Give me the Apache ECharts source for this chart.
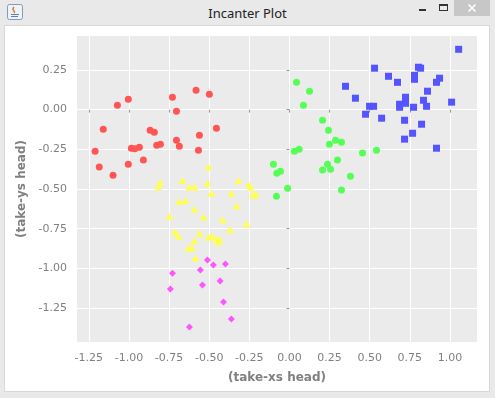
<!DOCTYPE html>
<html lang="en">
<head>
<meta charset="UTF-8">
<title>Incanter Plot</title>
<script src="https://cdn.jsdelivr.net/npm/echarts@6/dist/echarts.min.js"></script>
<style>
    body { margin:0; background:#e9e9e9; }
    #win { position:relative; width:495px; height:398px; overflow:hidden; background:#e9e9e9; }
    #caption { position:absolute; left:0; top:4px; width:495px; text-align:center;
               font-family:"Noto Sans"; font-size:13px; line-height:18px; color:#222; }
    #panel { position:absolute; left:4px; top:25px; width:484px; height:365px;
             background:#fff; border:1px solid #d8d8d8; }
    #chartmain { position:absolute; left:0; top:0; width:495px; height:398px; }
</style>
</head>
<body>
<div id="win">
    <svg style="position:absolute;left:0;top:0" width="495" height="25">
        <!-- java icon -->
        <rect x="7.5" y="4.5" width="15" height="15" rx="2" fill="#eef3f8" stroke="#7f9cbc"/>
        <path d="M14 7 q-2 2 0 4 q1 1 0 2" stroke="#e8772e" stroke-width="1.5" fill="none"/>
        <path d="M11 14.5 h8 M11 16.5 h7" stroke="#5b82b0" stroke-width="1"/>
        <!-- minimise / maximise / close -->
        <rect x="419" y="9" width="7" height="2" fill="#333"/>
        <rect x="439.5" y="4.5" width="8" height="6" fill="none" stroke="#333"/>
        <rect x="439" y="4" width="9" height="2" fill="#333"/>
        <rect x="454" y="0" width="36" height="16" fill="#c7c7c7"/>
        <path d="M468.5 4.5 l7 7 M475.5 4.5 l-7 7" stroke="#fff" stroke-width="1.6"/>
    </svg>
    <div id="caption">Incanter Plot</div>
    <div id="panel"></div>
    <div id="chartmain"></div>
</div>
<script>
    var xTicks = [-1.25, -1, -0.75, -0.5, -0.25, 0, 0.25, 0.5, 0.75, 1];
    var yTicks = [-1.25, -1, -0.75, -0.5, -0.25, 0, 0.25];

    var red = [[-1.211,-0.262],[-1.185,-0.362],[-1.160,-0.123],[-1.099,-0.413],[-1.072,0.028],
        [-1.004,0.065],[-1.004,-0.344],[-0.985,-0.243],[-0.964,-0.247],[-0.935,-0.237],
        [-0.910,-0.318],[-0.868,-0.130],[-0.842,-0.142],[-0.827,-0.224],[-0.804,-0.218],
        [-0.729,0.078],[-0.704,-0.010],[-0.704,-0.193],[-0.686,-0.230],[-0.582,0.122],
        [-0.561,-0.161],[-0.567,-0.256],[-0.499,0.097],[-0.455,-0.117]];

    var yellow = [[-0.505,-0.362],[-0.806,-0.457],[-0.817,-0.488],[-0.667,-0.447],[-0.625,-0.488],
        [-0.592,-0.488],[-0.511,-0.463],[-0.486,-0.526],[-0.318,-0.447],[-0.253,-0.474],
        [-0.241,-0.491],[-0.362,-0.526],[-0.228,-0.539],[-0.209,-0.532],[-0.688,-0.579],
        [-0.648,-0.573],[-0.592,-0.627],[-0.330,-0.606],[-0.748,-0.671],[-0.536,-0.677],
        [-0.415,-0.694],[-0.268,-0.719],[-0.713,-0.770],[-0.692,-0.797],[-0.561,-0.778],
        [-0.370,-0.757],[-0.505,-0.803],[-0.480,-0.797],[-0.457,-0.816],[-0.436,-0.816],
        [-0.443,-0.834],[-0.592,-0.828],[-0.630,-0.872],[-0.608,-0.872],[-0.586,-0.935]];

    var magenta = [[-0.511,-0.948],[-0.474,-0.979],[-0.399,-0.973],[-0.729,-1.030],[-0.555,-1.011],
        [-0.432,-1.080],[-0.742,-1.130],[-0.542,-1.105],[-0.411,-1.212],[-0.362,-1.319],
        [-0.623,-1.369]];

    var green = [[0.044,0.172],[0.125,0.116],[0.087,0.028],[0.206,-0.067],[0.243,-0.130],
        [0.287,-0.193],[0.324,-0.205],[0.249,-0.218],[0.031,-0.262],[0.060,-0.249],
        [0.455,-0.274],[0.542,-0.256],[-0.100,-0.344],[-0.079,-0.400],[-0.056,-0.388],
        [0.299,-0.318],[0.237,-0.344],[0.206,-0.381],[0.256,-0.375],[0.380,-0.419],
        [-0.012,-0.495],[-0.081,-0.545],[0.324,-0.507]];

    var blue = [[1.054,0.380],[0.530,0.261],[0.804,0.267],[0.817,0.261],[0.617,0.210],
        [0.673,0.172],[0.779,0.216],[0.779,0.191],[0.935,0.198],[0.916,0.172],
        [0.349,0.147],[0.860,0.116],[0.411,0.072],[0.723,0.078],[0.723,0.040],
        [0.686,0.034],[0.686,0.015],[0.835,0.059],[0.854,0.021],[1.010,0.047],
        [0.499,0.021],[0.524,0.021],[0.773,0.015],[0.474,-0.029],[0.574,-0.054],
        [0.717,-0.067],[0.823,-0.092],[0.767,-0.149],[0.717,-0.186],[0.916,-0.243]];

    var labelStyle = {color:'#808080', fontFamily:'DejaVu Sans', fontSize:11};
    var nameStyle = {color:'#808080', fontFamily:'DejaVu Sans', fontSize:12, fontWeight:'bold'};

    function fmt(v) { return v.toFixed(2); }

    var option = {
        animation: false,
        grid: {left:77, top:36, width:400, height:306, show:true, backgroundColor:'#ebebeb', borderWidth:0},
        xAxis: {
            type:'value', min:-1.3236, max:1.1683, offset:2,
            axisLine:{show:false},
            axisTick:{show:true, length:3, lineStyle:{color:'#999'}, customValues:xTicks},
            axisLabel:Object.assign({customValues:xTicks, formatter:fmt, margin:9}, labelStyle),
            splitLine:{show:true, lineStyle:{color:'#fff', width:1}},
            name:'(take-xs head)', nameLocation:'middle', nameGap:28, nameTextStyle:nameStyle
        },
        yAxis: {
            type:'value', min:-1.4638, max:0.4638, offset:3,
            axisLine:{show:false},
            axisTick:{show:true, length:3, lineStyle:{color:'#999'}, customValues:yTicks},
            axisLabel:Object.assign({customValues:yTicks, formatter:fmt, margin:7}, labelStyle),
            splitLine:{show:true, lineStyle:{color:'#fff', width:1}},
            name:'(take-ys head)', nameLocation:'middle', nameGap:39, nameTextStyle:nameStyle
        },
        series: [
            {name:'red', type:'scatter', data:red, symbol:'circle', symbolSize:7, itemStyle:{color:'#ff5555', opacity:1}},
            {name:'blue', type:'scatter', data:blue, symbol:'rect', symbolSize:7, itemStyle:{color:'#5555ff', opacity:1}},
            {name:'green', type:'scatter', data:green, symbol:'circle', symbolSize:7, itemStyle:{color:'#55ff55', opacity:1}},
            {name:'yellow', type:'scatter', data:yellow, symbol:'triangle', symbolSize:[8,7], itemStyle:{color:'#ffff55', opacity:1}},
            {name:'magenta', type:'scatter', data:magenta, symbol:'diamond', symbolSize:7, itemStyle:{color:'#ff55ff', opacity:1}}
        ]
    };

    var myChart = echarts.init(document.getElementById('chartmain'));
    myChart.setOption(option);
</script>
</body>
</html>
